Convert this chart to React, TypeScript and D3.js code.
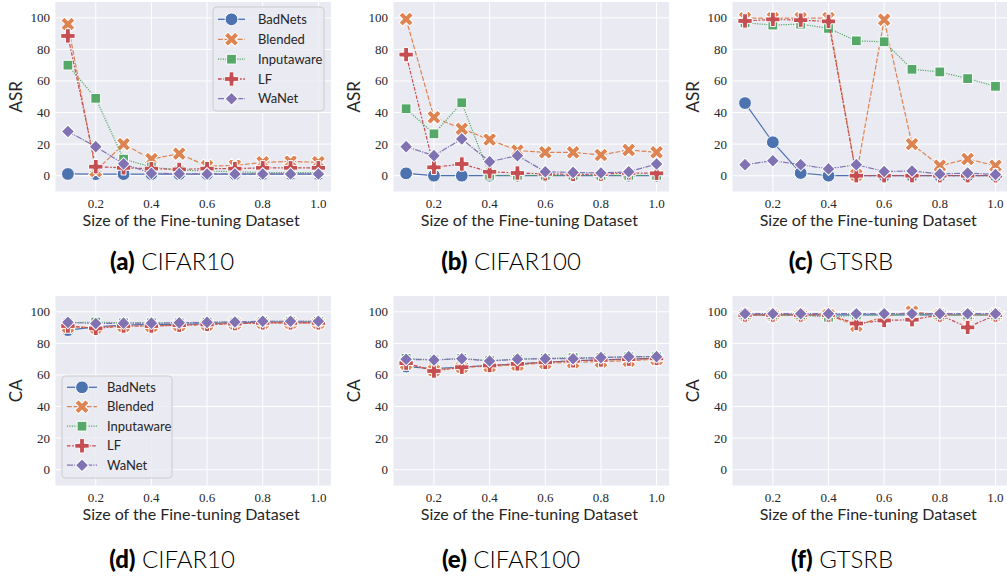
import React from "react";
import * as d3 from "d3";

const sizes = [0.1, 0.2, 0.3, 0.4, 0.5, 0.6, 0.7, 0.8, 0.9, 1.0];
const methods = ["BadNets", "Blended", "Inputaware", "LF", "WaNet"];
const xTicks = [0.2, 0.4, 0.6, 0.8, 1.0];
const yTicks = [0, 20, 40, 60, 80, 100];

// rows: BadNets, Blended, Inputaware, LF, WaNet
const cifar10ASR = [
  [1.1, 1, 1, 1, 1, 1, 1, 1, 1, 1],
  [96, 3, 20, 10.5, 14, 6, 6.5, 8.5, 9, 8.5],
  [70, 49, 10.5, 5.5, 3.5, 3, 2.5, 2, 2, 2],
  [88.5, 5.7, 5, 4.5, 4, 4.5, 4.5, 5, 5, 5],
  [28, 18.4, 7.5, 1.5, 1.3, 1.1, 1.1, 1.1, 1.1, 1.1],
];
const cifar100ASR = [
  [1.5, 0, 0, 0, 0, 0, 0, 0, 0, 0],
  [99.2, 37, 29.7, 22.9, 15.9, 14.8, 14.8, 13.1, 16.3, 14.8],
  [42.4, 26.5, 46.2, 0.3, 0.2, 0.2, 0.2, 0.2, 0.2, 0.2],
  [76.7, 5.3, 7.4, 2.5, 1.7, 1.2, 0.8, 1, 1.8, 1.5],
  [18.4, 12.7, 23.3, 8.9, 12.7, 2.5, 2.1, 1.7, 2.5, 7.4],
];
const gtsrbASR = [
  [46, 21.2, 1.7, 0, 0, 0, 0, 0, 0, 0],
  [99.8, 99.8, 99.8, 99.8, 0.5, 98.8, 20, 6.3, 10.6, 6.3],
  [96.8, 95.4, 96, 93.3, 85.4, 84.8, 67.4, 65.7, 61.5, 56.6],
  [98, 99, 98.5, 97.7, 0, 0, 0, 0, 0, 0],
  [7, 9.5, 7, 4.3, 7, 2.7, 3, 1.1, 1.7, 0.8],
];
const cifar10CA = [
  [88.4, 90.5, 91.5, 92, 92, 92.5, 93, 93.5, 93.5, 93.5],
  [90.5, 90, 91, 91, 91.5, 92, 92.5, 93, 93, 93],
  [93, 93.5, 93, 93, 93, 93.5, 93.5, 94, 94, 94],
  [91, 89.5, 91, 91, 91.5, 92, 92.5, 93, 93, 93],
  [93.3, 92.6, 92.8, 92.8, 93, 93.3, 93.5, 94, 94, 94],
];
const cifar100CA = [
  [65.3, 64, 65, 66, 67, 68, 69, 69.5, 70, 70.5],
  [67, 63, 65, 65.5, 66.5, 67.5, 68, 68.5, 69, 70],
  [70.5, 69.5, 70.5, 69, 70, 70.5, 71, 71, 71.5, 71.5],
  [67.5, 62.5, 64.9, 66, 67, 68, 69, 69.5, 70, 70.5],
  [69.9, 69.5, 70.3, 68.8, 70, 70.3, 70.3, 71, 71.6, 71.6],
];
const gtsrbCA = [
  [98, 98, 98, 98, 98, 98, 98, 98, 98, 98],
  [98, 98, 98, 98, 91.2, 97, 100, 98, 98, 98],
  [98, 98, 98, 96.5, 98, 98, 98, 98, 98, 98],
  [98, 98, 98, 98, 92.6, 94.5, 95, 98, 90.1, 98],
  [98.8, 98.8, 98.8, 98.8, 98.8, 98.8, 98.8, 98.8, 98.8, 98.8],
];

const colors = ["#4C72B0", "#DD8452", "#55A868", "#C44E52", "#8172B3"];
const dashes = ["", "4.8,1.8", "1.2,1.2", "3.6,1.5,1.8,1.5", "6,1.2,1.2,1.2"];

const markerPaths = [
  { d: d3.symbol(d3.symbolCircle, Math.PI * 6.4 * 6.4)() as string, rot: 0 },
  { d: d3.symbol(d3.symbolCross, 125)() as string, rot: 45 },
  { d: d3.symbol(d3.symbolSquare, 9.8 * 9.8)() as string, rot: 0 },
  { d: d3.symbol(d3.symbolCross, 115)() as string, rot: 0 },
  { d: d3.symbol(d3.symbolSquare, 9.2 * 9.2)() as string, rot: 45 },
];

const panels = [
  { data: cifar10ASR, ylabel: "ASR", row: 0, col: 0, tag: "(a)", name: "CIFAR10", capX: 172, legend: "a" },
  { data: cifar100ASR, ylabel: "ASR", row: 0, col: 1, tag: "(b)", name: "CIFAR100", capX: 511, legend: "" },
  { data: gtsrbASR, ylabel: "ASR", row: 0, col: 2, tag: "(c)", name: "GTSRB", capX: 841, legend: "" },
  { data: cifar10CA, ylabel: "CA", row: 1, col: 0, tag: "(d)", name: "CIFAR10", capX: 172, legend: "d" },
  { data: cifar100CA, ylabel: "CA", row: 1, col: 1, tag: "(e)", name: "CIFAR100", capX: 511, legend: "" },
  { data: gtsrbCA, ylabel: "CA", row: 1, col: 2, tag: "(f)", name: "GTSRB", capX: 842, legend: "" },
];

const colLefts = [55.4, 393.6, 732.5];
const rowTops = [2, 296];
const PW = 275.5;
const PH = 189.5;
const capBase = [270, 568];

const TEXT = "#262626";
const SANS = "Lato, 'Open Sans', sans-serif";
const SERIF = "'Liberation Serif', 'DejaVu Serif', serif";

function Marker({ i, x, y }: { i: number; x: number; y: number }) {
  const m = markerPaths[i];
  return (
    <path
      d={m.d}
      transform={`translate(${x},${y}) rotate(${m.rot})`}
      fill={colors[i]}
      stroke="#ffffff"
      strokeWidth={1}
    />
  );
}

function Legend({ x0, y0, w, h, ys, hx0, hx1, tx }: any) {
  return (
    <g>
      <rect x={x0} y={y0} width={w} height={h} rx={3.5} fill="#EAEAF2" fillOpacity={0.8} stroke="#cccccc" strokeWidth={1} />
      {methods.map((m, i) => (
        <g key={m}>
          <line x1={hx0} x2={hx1} y1={ys[i]} y2={ys[i]} stroke={colors[i]} strokeWidth={1.3} strokeDasharray={dashes[i]} />
          <Marker i={i} x={(hx0 + hx1) / 2} y={ys[i]} />
          <text x={tx} y={ys[i]} dy="0.36em" fontFamily={SANS} fontSize={13} fill={TEXT}>
            {m}
          </text>
        </g>
      ))}
    </g>
  );
}

function Panel({ p }: { p: any }) {
  const left = colLefts[p.col];
  const top = rowTops[p.row];
  const x = d3.scaleLinear().domain([0.055, 1.045]).range([left, left + PW]);
  const y = d3.scaleLinear().domain([-10, 110]).range([top + PH, top]);
  const line = d3
    .line<number>()
    .x((_, k) => x(sizes[k]))
    .y((v) => y(v));
  const clipId = `clip-${p.row}-${p.col}`;
  return (
    <g>
      <defs>
        <clipPath id={clipId}>
          <rect x={left} y={top} width={PW} height={PH} />
        </clipPath>
      </defs>
      <rect x={left} y={top} width={PW} height={PH} fill="#EAEAF2" />
      {yTicks.map((t) => (
        <line key={"gy" + t} x1={left} x2={left + PW} y1={y(t)} y2={y(t)} stroke="#ffffff" strokeWidth={1} />
      ))}
      {xTicks.map((t) => (
        <line key={"gx" + t} x1={x(t)} x2={x(t)} y1={top} y2={top + PH} stroke="#ffffff" strokeWidth={1} />
      ))}
      {yTicks.map((t) => (
        <text key={"ty" + t} x={left - 5.5} y={y(t)} dy="0.34em" textAnchor="end" fontFamily={SERIF} fontSize={13} fill={TEXT}>
          {t}
        </text>
      ))}
      {xTicks.map((t) => (
        <text key={"tx" + t} x={x(t)} y={top + PH + 16.5} textAnchor="middle" fontFamily={SERIF} fontSize={13} fill={TEXT}>
          {t.toFixed(1)}
        </text>
      ))}
      <text x={left + PW / 2 - 2} y={top + PH + 34} textAnchor="middle" fontFamily={SANS} fontSize={16} fill={TEXT}>
        Size of the Fine-tuning Dataset
      </text>
      <text
        transform={`translate(${left - 33.5},${top + PH / 2}) rotate(-90)`}
        textAnchor="middle"
        fontFamily={SANS}
        fontSize={17}
        fill={TEXT}
      >
        {p.ylabel}
      </text>
      <g clipPath={`url(#${clipId})`}>
        {p.data.map((vals: number[], i: number) => (
          <g key={methods[i]}>
            <path d={line(vals) as string} fill="none" stroke={colors[i]} strokeWidth={1.2} strokeDasharray={dashes[i]} />
            {vals.map((v, k) => (
              <Marker key={k} i={i} x={x(sizes[k])} y={y(v)} />
            ))}
          </g>
        ))}
      </g>
      {p.legend === "a" && (
        <Legend x0={213} y0={7} w={111} h={104} ys={[19.3, 39.3, 59.2, 79, 98.7]} hx0={218} hx1={245} tx={258} />
      )}
      {p.legend === "d" && (
        <Legend x0={62} y0={376} w={110} h={102} ys={[387.3, 406.7, 426.2, 445.8, 465.2]} hx0={67} hx1={97} tx={107} />
      )}
      <text x={p.capX} y={capBase[p.row]} textAnchor="middle" fontFamily={SANS} fontSize={24} fill="#000000">
        <tspan fontWeight={900}>{p.tag}</tspan>
        <tspan fontWeight={300}> {p.name}</tspan>
      </text>
    </g>
  );
}

export default function App() {
  return (
    <svg
      width={1007}
      height={576}
      viewBox="0 0 1007 576"
      style={{ position: "absolute", left: 0, top: 0, background: "#ffffff" }}
    >
      <rect x={0} y={0} width={1007} height={576} fill="#ffffff" />
      {panels.map((p) => (
        <Panel key={p.tag} p={p} />
      ))}
    </svg>
  );
}
